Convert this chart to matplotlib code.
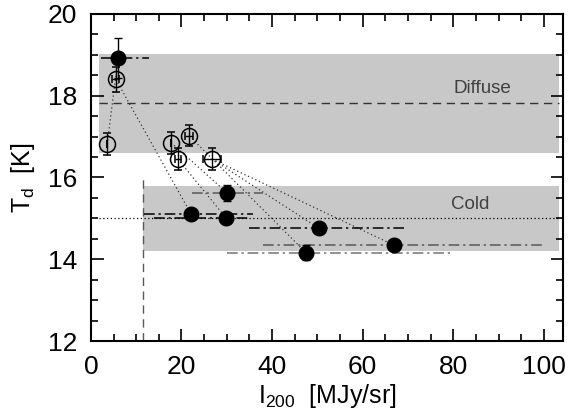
import numpy as np
import matplotlib.pyplot as plt
from matplotlib.ticker import MultipleLocator

# background (open) positions
open_x = [3.6, 5.5, 17.7, 19.2, 21.7, 26.7]
open_t = [16.81, 18.40, 16.85, 16.45, 17.02, 16.45]
open_terr = [0.27, 0.3, 0.27, 0.27, 0.26, 0.27]
open_xerr = [0.0, 0.8, 0.0, 0.6, 0.9, 2.0]

# cold (filled) positions with I200 ranges
cold_x = [6.0, 22.1, 29.9, 30.1, 50.3, 47.5, 67.0]
cold_t = [18.92, 15.11, 15.00, 15.62, 14.76, 14.16, 14.34]
cold_terr = [0.5, 0.12, 0.1, 0.2, 0.08, 0.18, 0.08]
cold_lo = [2.3, 11.7, 14.0, 22.4, 34.9, 30.0, 37.9]
cold_hi = [12.9, 35.8, 35.0, 38.0, 69.1, 79.9, 99.5]
range_col = ['k', 'k', 'k', '0.35', 'k', '0.45', '0.35']

# which open point each cold point is linked to
links = [(0, 0), (1, 1), (3, 2), (2, 3), (5, 4), (4, 5), (5, 6)]

band_x = [1.7, 103.3]
diffuse_band = [16.60, 19.02]
diffuse_mean = 17.81
cold_band = [14.19, 15.80]
cold_xmin = 11.5
cold_mean = 15.0

plt.rcParams['font.family'] = 'Liberation Sans'
plt.rcParams['mathtext.fontset'] = 'custom'
plt.rcParams['mathtext.rm'] = 'Liberation Sans'
plt.rcParams['mathtext.it'] = 'Liberation Sans'
fig = plt.figure(figsize=(5.68, 4.19), dpi=100)
ax = fig.add_axes([0.160, 0.186, 0.831, 0.781])

ax.fill_between(band_x, diffuse_band[0], diffuse_band[1], color='#c8c8c8', lw=0, zorder=0)
ax.fill_between([cold_xmin, band_x[1]], cold_band[0], cold_band[1], color='#c8c8c8', lw=0, zorder=0)
ax.plot(band_x, [diffuse_mean, diffuse_mean], color='0.2', ls=(0, (6, 4)), lw=1, zorder=1)
ax.plot(band_x, [cold_mean, cold_mean], color='k', ls=(0, (1, 2)), lw=0.9, zorder=1)
ax.plot([cold_xmin, cold_xmin], [12, 16.0], color='0.35', ls=(0, (6, 4)), lw=1, zorder=1)

ax.text(86.5, 18.17, 'Diffuse', ha='center', va='center', fontsize=13.5, color='0.25')
ax.text(83.7, 15.34, 'Cold', ha='center', va='center', fontsize=13.5, color='0.25')

for (io, ic) in links:
    ax.plot([open_x[io], cold_x[ic]], [open_t[io], cold_t[ic]], color='0.2',
            ls=(0, (1, 2.2)), lw=0.9, zorder=2)

for i in range(len(cold_x)):
    ax.plot([cold_lo[i], cold_hi[i]], [cold_t[i], cold_t[i]], color=range_col[i],
            ls=(0, (7, 2.5, 1.5, 2.5)), lw=1.1, zorder=2)

ax.errorbar(open_x, open_t, yerr=open_terr, xerr=open_xerr, fmt='o', ms=11.5,
            mfc='none', mec='k', mew=1.1, ecolor='k', elinewidth=1, capsize=3, zorder=3)
ax.errorbar(cold_x, cold_t, yerr=cold_terr, fmt='o', ms=10.5, mfc='k', mec='k',
            ecolor='k', elinewidth=1, capsize=3, zorder=4)

ax.set_xlim(0, 104.2)
ax.set_ylim(12, 20)
ax.xaxis.set_major_locator(MultipleLocator(20))
ax.xaxis.set_minor_locator(MultipleLocator(5))
ax.yaxis.set_major_locator(MultipleLocator(2))
ax.yaxis.set_minor_locator(MultipleLocator(0.5))
ax.tick_params(which='both', direction='in', top=True, right=True, width=1.2)
ax.tick_params(which='major', length=9, labelsize=19, pad=10)
ax.tick_params(which='minor', length=5)
for s in ax.spines.values():
    s.set_linewidth(1.5)

ax.set_xlabel(r'I$_{\mathrm{200}}$  [MJy/sr]', fontsize=18, labelpad=2)
ax.set_ylabel(r'T$_{\mathrm{d}}$  [K]', fontsize=18, labelpad=8)

fig.savefig('out.png', dpi=100)
